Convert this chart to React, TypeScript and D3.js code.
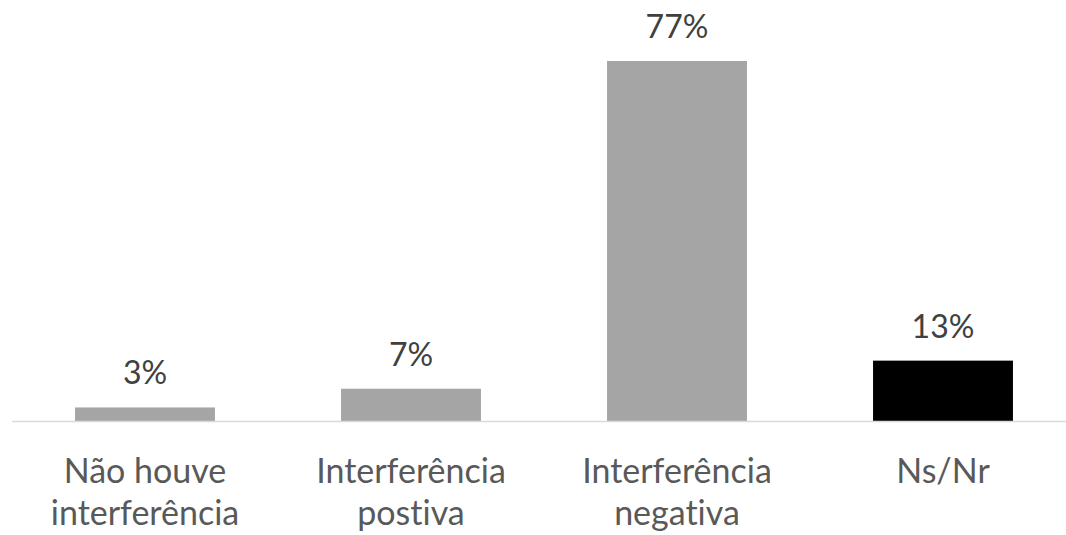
import React from "react";
import * as d3 from "d3";

const categories: string[][] = [
  ["Não houve", "interferência"],
  ["Interferência", "postiva"],
  ["Interferência", "negativa"],
  ["Ns/Nr"],
];
const values: number[] = [3, 7, 77, 13];
const valueLabels: string[] = ["3%", "7%", "77%", "13%"];
const barColors: string[] = ["#a5a5a5", "#a5a5a5", "#a5a5a5", "#000000"];

const W = 1066;
const H = 535;
const FONT = "Lato, 'Open Sans', sans-serif";

export default function App() {
  const x = d3
    .scaleBand<number>()
    .domain(d3.range(values.length))
    .range([12, 1076])
    .paddingInner(0.474)
    .paddingOuter(0.237);
  const y = d3.scaleLinear().domain([0, 77]).range([421.5, 61]);
  const bw = x.bandwidth();
  return (
    <svg
      width={W}
      height={H}
      style={{
        position: "absolute",
        left: 0,
        top: 0,
        background: "#fff",
        fontVariantLigatures: "none",
        fontFeatureSettings: "'liga' 0, 'clig' 0",
      }}
    >
      {values.map((v, i) => (
        <g key={i}>
          <rect
            x={x(i)!}
            y={y(v)}
            width={bw}
            height={y(0) - y(v)}
            fill={barColors[i]}
          />
          <text
            x={x(i)! + bw / 2}
            y={y(v) - 23}
            textAnchor="middle"
            fontFamily={FONT}
            fontSize={32}
            fill="#404040"
          >
            {valueLabels[i]}
          </text>
          <text
            x={x(i)! + bw / 2}
            y={483}
            textAnchor="middle"
            fontFamily={FONT}
            fontSize={34}
            fill="#595959"
          >
            {categories[i].map((line, j) => (
              <tspan key={j} x={x(i)! + bw / 2} dy={j === 0 ? 0 : 42}>
                {line}
              </tspan>
            ))}
          </text>
        </g>
      ))}
      <line x1={12} x2={1066} y1={421.5} y2={421.5} stroke="#d9d9d9" strokeWidth={1.5} />
    </svg>
  );
}
